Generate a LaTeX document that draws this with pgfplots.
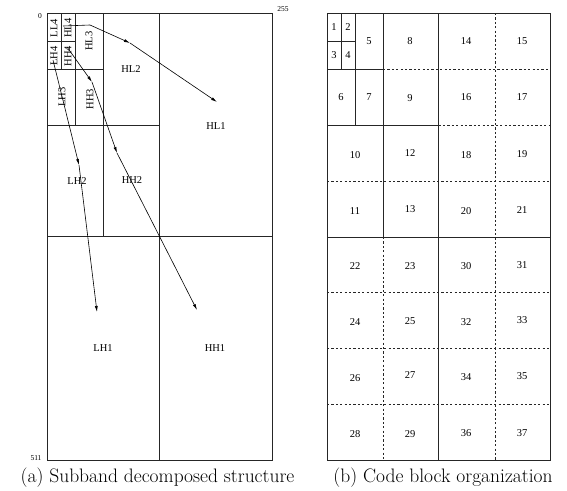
\documentclass[border=0pt]{standalone}
\usepackage{fontspec}
\usepackage{pgfplots}
\pgfplotsset{compat=1.18}
\usetikzlibrary{arrows.meta}
\newfontfamily\tf{Liberation Serif}
\tikzset{
  myln/.style={black!85,line width=0.9pt},
  mydl/.style={black!85,line width=0.9pt,dash pattern=on 2.2pt off 2.2pt},
  myar/.style={black,line width=0.6pt,-{Latex[length=6pt,width=3pt]}},
  mysg/.style={black,line width=0.6pt},
  mylab/.style={font=\tf\fontsize{10.5}{12}\selectfont,inner sep=0pt},
  myrlab/.style={font=\tf\fontsize{10.5}{12}\selectfont,inner sep=0pt,rotate=90},
  mytk/.style={font=\tf\fontsize{7.5}{9}\selectfont,inner sep=0pt},
  mycap/.style={font=\fontsize{19.5}{23}\selectfont,inner sep=0pt}}
\begin{document}
\begin{tikzpicture}
\begin{axis}[width=567pt,height=490pt,scale only axis,
  xmin=0,xmax=567,ymin=0,ymax=490,y dir=reverse,hide axis,clip=false,
  every axis plot/.append style={no markers}]
\path (axis cs:0,0) rectangle (axis cs:567,490);
% ---- left panel ----
\addplot[myln] coordinates {(47,13) (272,13) (272,460) (47,460) (47,13)};
\addplot[myln] coordinates {(159.5,13) (159.5,460)};
\addplot[myln] coordinates {(47,236.5) (272,236.5)};
\addplot[myln] coordinates {(103,13) (103,236.5)};
\addplot[myln] coordinates {(47,125) (159.5,125)};
\addplot[myln] coordinates {(75,13) (75,125)};
\addplot[myln] coordinates {(47,69) (103,69)};
\addplot[myln] coordinates {(61,13) (61,69)};
\addplot[myln] coordinates {(47,41) (75,41)};
% arrows
\addplot[mysg] coordinates {(63,26) (90,25)};
\addplot[myar] coordinates {(90,25) (130,43)};
\addplot[myar] coordinates {(130,43) (217,102)};
\addplot[myar] coordinates {(67,47) (92,82)};
\addplot[myar] coordinates {(92,82) (117,153)};
\addplot[myar] coordinates {(117,153) (197,310)};
\addplot[myar] coordinates {(53,60) (79,165)};
\addplot[myar] coordinates {(79,165) (97,312)};
% labels
\node[myrlab] at (axis cs:54,28) {LL4};
\node[myrlab] at (axis cs:68,28) {HL4};
\node[myrlab] at (axis cs:54,56) {LH4};
\node[myrlab] at (axis cs:68,56) {HH4};
\node[myrlab] at (axis cs:89,41) {HL3};
\node[myrlab] at (axis cs:62,97) {LH3};
\node[myrlab] at (axis cs:90,99) {HH3};
\node[mylab] at (axis cs:131,69) {HL2};
\node[mylab] at (axis cs:77,181) {LH2};
\node[mylab] at (axis cs:132,180) {HH2};
\node[mylab] at (axis cs:216,126) {HL1};
\node[mylab] at (axis cs:103,348) {LH1};
\node[mylab] at (axis cs:215,348) {HH1};
\node[mytk] at (axis cs:40,16) {0};
\node[mytk] at (axis cs:283,9) {255};
\node[mytk] at (axis cs:36,458) {511};
% ---- right panel ----
\addplot[myln] coordinates {(327,13) (550,13) (550,460) (327,460) (327,13)};
\addplot[myln] coordinates {(438.5,13) (438.5,460)};
\addplot[myln] coordinates {(327,237) (550,237)};
\addplot[myln] coordinates {(383,13) (383,237)};
\addplot[myln] coordinates {(327,125) (438.5,125)};
\addplot[myln] coordinates {(355,13) (355,125)};
\addplot[myln] coordinates {(327,69) (383,69)};
\addplot[myln] coordinates {(341,13) (341,69)};
\addplot[myln] coordinates {(327,41) (355,41)};
\addplot[mydl] coordinates {(383,69) (550,69)};
\addplot[mydl] coordinates {(438.5,125) (550,125)};
\addplot[mydl] coordinates {(327,181) (550,181)};
\addplot[mydl] coordinates {(327,292.75) (550,292.75)};
\addplot[mydl] coordinates {(327,348.5) (550,348.5)};
\addplot[mydl] coordinates {(327,404.25) (550,404.25)};
\addplot[mydl] coordinates {(495,13) (495,460)};
\addplot[mydl] coordinates {(383,237) (383,460)};
% numbers
\node[mylab] at (axis cs:334,27) {1};
\node[mylab] at (axis cs:348,27) {2};
\node[mylab] at (axis cs:334,55) {3};
\node[mylab] at (axis cs:348,55) {4};
\node[mylab] at (axis cs:369,41) {5};
\node[mylab] at (axis cs:341,97) {6};
\node[mylab] at (axis cs:369,97) {7};
\node[mylab] at (axis cs:410,41) {8};
\node[mylab] at (axis cs:410,98) {9};
\node[mylab] at (axis cs:355,155) {10};
\node[mylab] at (axis cs:355,211) {11};
\node[mylab] at (axis cs:410,153) {12};
\node[mylab] at (axis cs:410,209) {13};
\node[mylab] at (axis cs:466,41) {14};
\node[mylab] at (axis cs:522,41) {15};
\node[mylab] at (axis cs:466,97) {16};
\node[mylab] at (axis cs:522,97) {17};
\node[mylab] at (axis cs:466,155) {18};
\node[mylab] at (axis cs:522,154) {19};
\node[mylab] at (axis cs:466,211) {20};
\node[mylab] at (axis cs:522,210) {21};
\node[mylab] at (axis cs:355,266) {22};
\node[mylab] at (axis cs:410,266) {23};
\node[mylab] at (axis cs:355,322) {24};
\node[mylab] at (axis cs:410,321) {25};
\node[mylab] at (axis cs:355,378) {26};
\node[mylab] at (axis cs:410,375) {27};
\node[mylab] at (axis cs:355,434) {28};
\node[mylab] at (axis cs:410,434) {29};
\node[mylab] at (axis cs:466,266) {30};
\node[mylab] at (axis cs:522,265) {31};
\node[mylab] at (axis cs:466,322) {32};
\node[mylab] at (axis cs:522,320) {33};
\node[mylab] at (axis cs:466,377) {34};
\node[mylab] at (axis cs:522,376) {35};
\node[mylab] at (axis cs:466,433) {36};
\node[mylab] at (axis cs:522,433) {37};
% captions
\node[mycap] at (axis cs:157.5,478) {(a) Subband decomposed structure};
\node[mycap] at (axis cs:443,478) {(b) Code block organization};
\end{axis}
\end{tikzpicture}
\end{document}
